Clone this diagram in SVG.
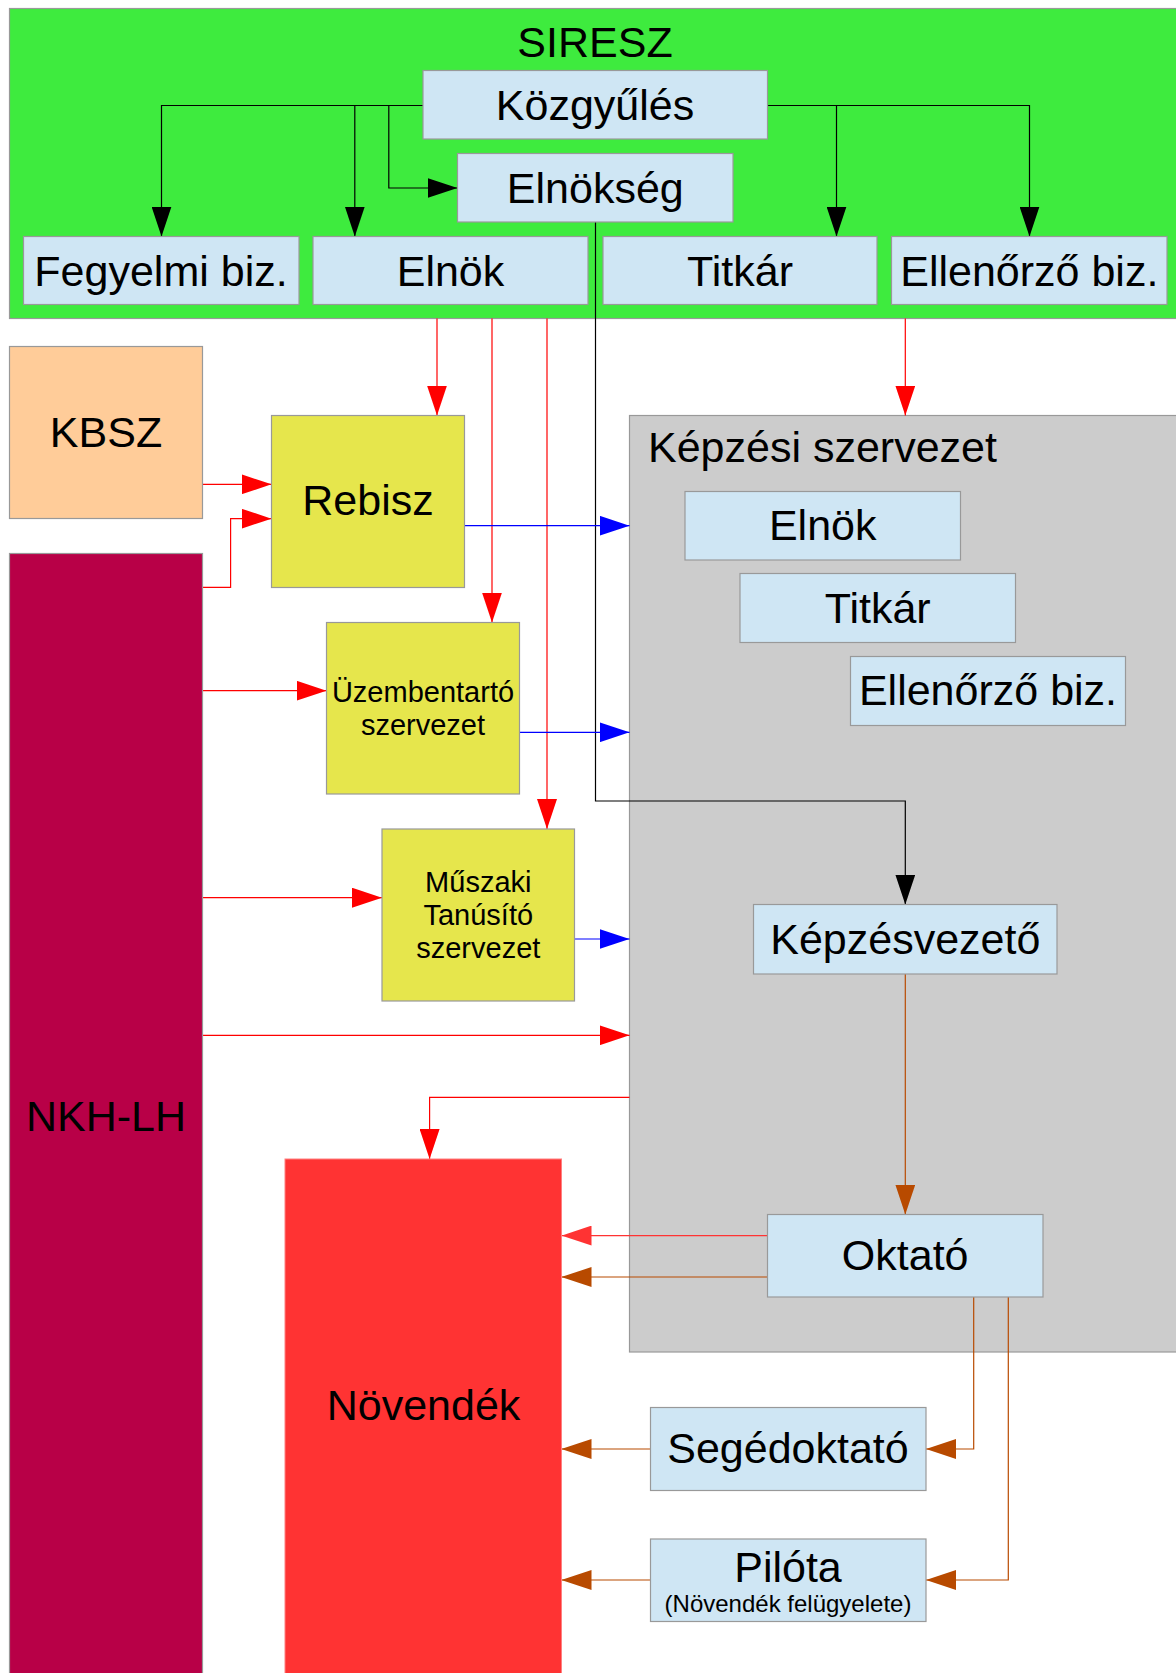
<svg xmlns="http://www.w3.org/2000/svg" width="1176" height="1673" viewBox="0 0 1176 1673">
<defs>
<style>
text{font-family:"Liberation Sans",Arial,sans-serif;fill:#000;text-anchor:middle}
.big{font-size:43px}
.mid{font-size:29px}
.sm{font-size:24px}
.box{fill:#cfe6f4;stroke:#999;stroke-width:1.2}
.yel{fill:#e6e64c;stroke:#999;stroke-width:1.2}
.c{fill:none;stroke-width:1.2}
.k{stroke:#000}
.r{stroke:#ff0000}
.b{stroke:#0000ff}
.o{stroke:#b84a00}
.lr{stroke:#ff3333}
</style>
<marker id="ak" viewBox="0 0 30 20" refX="30" refY="10" markerWidth="30" markerHeight="20" markerUnits="userSpaceOnUse" orient="auto"><path d="M0 0L30 10L0 20z" fill="#000"/></marker>
<marker id="ar" viewBox="0 0 30 20" refX="30" refY="10" markerWidth="30" markerHeight="20" markerUnits="userSpaceOnUse" orient="auto"><path d="M0 0L30 10L0 20z" fill="#ff0000"/></marker>
<marker id="ab" viewBox="0 0 30 20" refX="30" refY="10" markerWidth="30" markerHeight="20" markerUnits="userSpaceOnUse" orient="auto"><path d="M0 0L30 10L0 20z" fill="#0000ff"/></marker>
<marker id="ao" viewBox="0 0 30 20" refX="30" refY="10" markerWidth="30" markerHeight="20" markerUnits="userSpaceOnUse" orient="auto"><path d="M0 0L30 10L0 20z" fill="#b84a00"/></marker>
<marker id="alr" viewBox="0 0 30 20" refX="30" refY="10" markerWidth="30" markerHeight="20" markerUnits="userSpaceOnUse" orient="auto"><path d="M0 0L30 10L0 20z" fill="#ff3333"/></marker>
</defs>
<rect width="1176" height="1673" fill="#fff"/>

<g id="siresz">
<rect x="9.5" y="8.5" width="1170" height="310" fill="#3eeb3e" stroke="#999" stroke-width="1.2"/>
<text class="big" x="595" y="56.5">SIRESZ</text>
</g>
<g id="kepzesi-szervezet">
<rect x="629.5" y="415.5" width="560" height="936.5" fill="#cccccc" stroke="#999" stroke-width="1.2"/>
<text class="big" x="648" y="461.5" style="text-anchor:start">Képzési szervezet</text>
</g>

<g id="connectors">
<path class="c k" d="M423 105.5H161.5V236.5" marker-end="url(#ak)"/>
<path class="c k" d="M354.8 105.5V236.5" marker-end="url(#ak)"/>
<path class="c k" d="M388.8 105.5V188H457.5" marker-end="url(#ak)"/>
<path class="c k" d="M767.5 105.5H1029.5V236.5" marker-end="url(#ak)"/>
<path class="c k" d="M836.5 105.5V236.5" marker-end="url(#ak)"/>
<path class="c k" d="M595.5 222V801H905.3V904.5" marker-end="url(#ak)"/>
<path class="c r" d="M437 318.5V415.5" marker-end="url(#ar)"/>
<path class="c r" d="M492 318.5V622.5" marker-end="url(#ar)"/>
<path class="c r" d="M547 318.5V829" marker-end="url(#ar)"/>
<path class="c r" d="M905.3 318.5V415.5" marker-end="url(#ar)"/>
<path class="c r" d="M203 484.3H271.5" marker-end="url(#ar)"/>
<path class="c r" d="M203 587.3H230.6V518.7H271.5" marker-end="url(#ar)"/>
<path class="c r" d="M203 690.7H326.5" marker-end="url(#ar)"/>
<path class="c r" d="M203 897.7H382" marker-end="url(#ar)"/>
<path class="c r" d="M203 1035.3H629.5" marker-end="url(#ar)"/>
<path class="c r" d="M629.5 1097.4H429.6V1159" marker-end="url(#ar)"/>
<path class="c b" d="M464.5 525.7H629.5" marker-end="url(#ab)"/>
<path class="c b" d="M519.5 732.3H629.5" marker-end="url(#ab)"/>
<path class="c b" d="M574.5 939H629.5" marker-end="url(#ab)"/>
<path class="c o" d="M905.3 974V1214.5" marker-end="url(#ao)"/>
<path class="c lr" d="M767.5 1235.6H561.5" marker-end="url(#alr)"/>
<path class="c o" d="M767.5 1277H561.5" marker-end="url(#ao)"/>
<path class="c o" d="M973.7 1297V1449H926" marker-end="url(#ao)"/>
<path class="c o" d="M1008.3 1297V1580H926" marker-end="url(#ao)"/>
<path class="c o" d="M650.5 1449H561.5" marker-end="url(#ao)"/>
<path class="c o" d="M650.5 1580H561.5" marker-end="url(#ao)"/>
</g>

<g id="kozgyules"><rect class="box" x="423" y="70.5" width="344.5" height="68.5"/><text class="big" x="595" y="120">Közgyűlés</text></g>
<g id="elnokseg"><rect class="box" x="457.5" y="153.5" width="275.5" height="68.5"/><text class="big" x="595.3" y="202.5">Elnökség</text></g>
<g id="fegyelmi"><rect class="box" x="23.5" y="236.5" width="275.5" height="68"/><text class="big" x="161" y="286">Fegyelmi biz.</text></g>
<g id="elnok"><rect class="box" x="313" y="236.5" width="275" height="68"/><text class="big" x="450.5" y="286">Elnök</text></g>
<g id="titkar"><rect class="box" x="603" y="236.5" width="274" height="68"/><text class="big" x="740" y="286">Titkár</text></g>
<g id="ellenorzo"><rect class="box" x="891.5" y="236.5" width="275.5" height="68"/><text class="big" x="1029.3" y="286">Ellenőrző biz.</text></g>

<g id="kbsz"><rect x="9.5" y="346.5" width="193" height="172" fill="#ffcc99" stroke="#999" stroke-width="1.2"/><text class="big" x="106" y="446.5">KBSZ</text></g>
<g id="rebisz"><rect class="yel" x="271.5" y="415.5" width="193" height="172"/><text class="big" x="368" y="515">Rebisz</text></g>
<g id="uzembentarto"><rect class="yel" x="326.5" y="622.5" width="193" height="171.5"/><text class="mid" x="423" y="701.7">Üzembentartó</text><text class="mid" x="423" y="735">szervezet</text></g>
<g id="muszaki"><rect class="yel" x="382" y="829" width="192.5" height="172"/><text class="mid" x="478.3" y="891.7">Műszaki</text><text class="mid" x="478.3" y="925">Tanúsító</text><text class="mid" x="478.3" y="958.3">szervezet</text></g>
<g id="nkh-lh"><rect x="9.5" y="553.5" width="193" height="1130" fill="#b80047" stroke="#999" stroke-width="1.2"/><text class="big" x="106" y="1131">NKH-LH</text></g>

<g id="k-elnok"><rect class="box" x="685" y="491.5" width="275.5" height="68.5"/><text class="big" x="822.7" y="540">Elnök</text></g>
<g id="k-titkar"><rect class="box" x="740" y="573.5" width="275.5" height="69"/><text class="big" x="877.7" y="622.7">Titkár</text></g>
<g id="k-ellenorzo"><rect class="box" x="850.5" y="656.5" width="275" height="69"/><text class="big" x="988" y="705">Ellenőrző biz.</text></g>
<g id="kepzesvezeto"><rect class="box" x="753.5" y="904.5" width="303.5" height="69.5"/><text class="big" x="905.3" y="954.3">Képzésvezető</text></g>
<g id="oktato"><rect class="box" x="767.5" y="1214.5" width="275.5" height="82.5"/><text class="big" x="905.2" y="1269.6">Oktató</text></g>

<g id="novendek"><rect x="285" y="1159" width="276.5" height="530" fill="#ff3333" stroke="#ff8080" stroke-width="1"/><text class="big" x="423.5" y="1420">Növendék</text></g>
<g id="segedoktato"><rect class="box" x="650.5" y="1407.5" width="275.5" height="83"/><text class="big" x="788" y="1463.3">Segédoktató</text></g>
<g id="pilota"><rect class="box" x="650.5" y="1539" width="275.5" height="82.5"/><text class="big" x="788" y="1581.7">Pilóta</text><text class="sm" x="788" y="1612">(Növendék felügyelete)</text></g>
</svg>
